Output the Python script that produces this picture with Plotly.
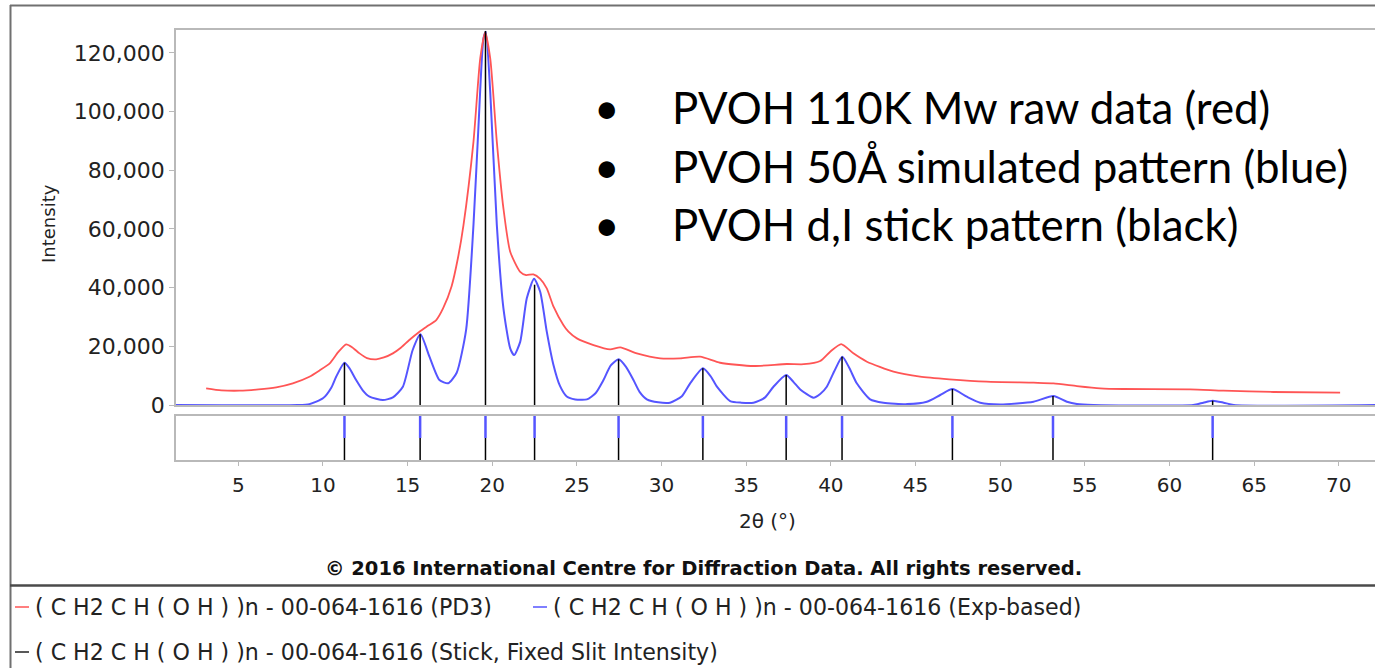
import plotly.graph_objects as go

# ---------------- data ----------------
red_x = [3.1, 4.0, 5.07, 6.2, 7.24, 8.22, 9.2, 9.8, 10.4, 10.9, 11.37, 11.7, 12.16, 12.6,
         13.14, 13.6, 14.13, 14.6, 15.1, 15.7, 16.2, 16.69, 17.1, 17.6, 17.97, 18.3, 18.89,
         19.29, 19.58, 19.88, 20.27, 20.66, 21.06, 21.65, 22.0, 22.43, 22.83, 23.22, 23.62,
         24.2, 24.5, 25.0, 25.98, 26.96, 27.56, 28.54, 29.92, 31.1, 32.28, 33.46, 35.43,
         37.4, 38.4, 39.37, 39.96, 40.61, 41.33, 42.13, 43.7, 45.27, 47.0, 49.2, 51.97,
         53.15, 54.53, 55.9, 57.28, 61.22, 63.19, 66.14, 70.08]
red_y = [5690, 5000, 4870, 5300, 6030, 7390, 9640, 11800, 14200, 18000, 20680, 19800, 17600, 16000,
         15570, 16200, 17600, 19500, 22150, 24970, 27000, 28960, 33000, 40500, 50000, 61300, 89700,
         118100, 127000, 118100, 89700, 67000, 52230, 45400, 44300, 44500, 43000, 39760, 33500,
         27260, 24970, 22700, 20440, 18970, 19650, 17600, 15900, 15900, 16460, 14400, 13290,
         13970, 13900, 15000, 18160, 20780, 17600, 14750, 11350, 9640, 8750, 7940, 7600,
         7390, 6470, 5690, 5450, 5350, 4870, 4430, 4190]

blue_x = [1.3, 8.5, 9.2, 10.0, 10.5, 10.78, 11.27, 11.57, 11.96, 12.35, 12.75, 13.54, 14.13,
          14.72, 15.3, 15.76, 16.29, 16.88, 17.4, 17.9, 18.46, 18.89, 19.19, 19.48, 19.62,
          19.88, 20.27, 20.66, 21.06, 21.29, 21.65, 22.04, 22.47, 22.83, 23.22, 23.6, 24.0,
          24.4, 24.9, 25.59, 26.1, 26.57, 27.0, 27.46, 27.9, 28.34, 28.7, 29.13, 29.8, 30.5,
          31.2, 31.69, 32.44, 32.9, 33.27, 34.05, 34.7, 35.43, 36.1, 36.61, 37.36, 37.8,
          38.19, 38.97, 39.37, 39.76, 40.2, 40.68, 41.1, 41.53, 42.32, 43.1, 44.5, 45.67,
          46.46, 47.18, 48.03, 48.82, 50.0, 51.97, 53.15, 53.94, 54.53, 55.5, 61.4, 62.0,
          62.55, 63.2, 63.8, 72.3]
blue_y = [0, 0, 300, 2280, 6000, 9640, 14400, 12500, 8500, 5000, 2830, 1700, 2600,
          6230, 18740, 24080, 16460, 8500, 7400, 11000, 25800, 61300, 95400, 124900, 127200,
          106700, 61300, 32950, 19300, 17000, 21500, 36350, 43000, 38600, 25000, 14000, 6500,
          2900, 1900, 1900, 4000, 8520, 13500, 15570, 13000, 8520, 4500, 1940, 900, 790,
          3000, 7390, 12500, 9800, 6230, 1360, 800, 790, 2500, 6230, 10220, 7800,
          5300, 2500, 3750, 6230, 11500, 16460, 12500, 7390, 1940, 790, 300, 1120,
          3410, 5450, 2830, 790, 200, 1120, 3070, 1120, 340, 0, 0, 800,
          1470, 800, 0, 0]

stick_pos = [11.27, 15.74, 19.60, 22.50, 27.46, 32.44, 37.36, 40.66, 47.18, 53.12, 62.55]
stick_int = [14400, 24100, 127500, 41000, 15570, 12500, 10220, 16460, 5450, 3070, 1470]

x_ticks = [5, 10, 15, 20, 25, 30, 35, 40, 45, 50, 55, 60, 65, 70]
y_ticks = [0, 20000, 40000, 60000, 80000, 100000, 120000]

legend_names = ["( C H2 C H ( O H ) )n - 00-064-1616 (PD3)",
                "( C H2 C H ( O H ) )n - 00-064-1616 (Exp-based)",
                "( C H2 C H ( O H ) )n - 00-064-1616 (Stick, Fixed Slit Intensity)"]
bullet_lines = ["PVOH 110K Mw raw data (red)",
                "PVOH 50Å simulated pattern (blue)",
                "PVOH d,I stick pattern (black)"]

# ---------------- layout helpers ----------------
W, H = 1375, 668
L, R, T, B = 176, 0, 30, 208
PW, PH = W - L - R, H - T - B


def px(x):
    return (x - L) / PW


def py(y):
    return (H - B - y) / PH


RED = "rgb(255,85,85)"
BLUE = "rgb(85,85,255)"
AXC = "#b9b9b9"
UI = "DejaVu Sans"

fig = go.Figure()

fig.add_trace(go.Scatter(x=blue_x, y=blue_y, mode="lines", name=legend_names[1],
                         line=dict(color=BLUE, width=2, shape="spline", smoothing=0.6),
                         xaxis="x", yaxis="y"))
fig.add_trace(go.Scatter(x=red_x, y=red_y, mode="lines", name=legend_names[0],
                         line=dict(color=RED, width=1.8, shape="spline", smoothing=0.6),
                         xaxis="x", yaxis="y"))

sx, sy = [], []
for p, h in zip(stick_pos, stick_int):
    sx += [p, p, None]
    sy += [0, h, None]
fig.add_trace(go.Scatter(x=sx, y=sy, mode="lines", name=legend_names[2],
                         line=dict(color="black", width=1.5), xaxis="x", yaxis="y"))

kx, ky, bx, by = [], [], [], []
for p in stick_pos:
    kx += [p, p, None]
    ky += [0, 1, None]
    bx += [p, p, None]
    by += [1, 2, None]
fig.add_trace(go.Scatter(x=kx, y=ky, mode="lines", line=dict(color="black", width=1.5),
                         xaxis="x2", yaxis="y2", showlegend=False))
fig.add_trace(go.Scatter(x=bx, y=by, mode="lines", line=dict(color=BLUE, width=2.5),
                         xaxis="x2", yaxis="y2", showlegend=False))

shapes = [
    dict(type="line", xref="paper", yref="paper", x0=px(10.5), x1=px(10.5), y0=py(5), y1=py(668),
         line=dict(color="#707070", width=2)),
    dict(type="line", xref="paper", yref="paper", x0=px(10), x1=1, y0=py(5.5), y1=py(5.5),
         line=dict(color="#707070", width=2)),
    dict(type="line", xref="paper", yref="paper", x0=px(10), x1=1, y0=py(585.5), y1=py(585.5),
         line=dict(color="#4a4a4a", width=2.5)),
]

annotations = [
    dict(text="Intensity", x=px(48), y=py(224), xref="paper", yref="paper", textangle=-90,
         xanchor="center", yanchor="middle",
         showarrow=False, font=dict(family=UI, size=18, color="#222")),
    dict(text="2θ (°)", x=px(767), y=py(521), xref="paper", yref="paper",
         xanchor="center", yanchor="middle",
         showarrow=False, font=dict(family=UI, size=20, color="#222")),
    dict(text="<b>© 2016 International Centre for Diffraction Data. All rights reserved.</b>",
         x=px(703), y=py(568), xref="paper", yref="paper", xanchor="center", yanchor="middle",
         showarrow=False, font=dict(family=UI, size=19.5, color="#111")),
]

# legend: short coloured dash + text
leg_pos = [(15, 607), (533, 607), (15, 652)]
leg_col = [RED, BLUE, "#222"]
for (lx, ly), col, name in zip(leg_pos, leg_col, legend_names):
    shapes.append(dict(type="line", xref="paper", yref="paper", x0=px(lx), x1=px(lx + 14),
                       y0=py(ly), y1=py(ly), line=dict(color=col, width=1.5)))
    annotations.append(dict(
        text=name, x=px(lx + 18), y=py(ly), xref="paper", yref="paper",
        xanchor="left", yanchor="middle",
        showarrow=False, font=dict(family=UI, size=22.1, color="#222")))

bullet_y = [107, 166, 224]
for yy, txt in zip(bullet_y, bullet_lines):
    annotations.append(dict(text="•", x=px(607), y=py(yy), xref="paper", yref="paper",
                            xanchor="center", yanchor="middle",
                            showarrow=False, font=dict(family="Lato", size=44, color="black")))
    annotations.append(dict(text=txt, x=px(670), y=py(yy), xref="paper", yref="paper",
                            xanchor="left", yanchor="middle", showarrow=False,
                            font=dict(family="Lato", size=43.8, color="black")))

fig.update_layout(
    width=W, height=H,
    margin=dict(l=L, r=R, t=T, b=B, pad=0),
    paper_bgcolor="white", plot_bgcolor="white",
    showlegend=False,
    shapes=shapes, annotations=annotations,
    xaxis=dict(domain=[0, 1], anchor="y", range=[1.32, 72.14], showticklabels=False,
               ticks="", showline=True, mirror=True, linecolor=AXC, linewidth=1.5,
               showgrid=False, zeroline=False),
    yaxis=dict(domain=[py(405), 1], anchor="x", range=[0, 127800], tickvals=y_ticks,
               tickformat=",", ticks="outside", ticklen=5, tickcolor=AXC, showline=True,
               linecolor=AXC, linewidth=1.5, showgrid=False, zeroline=False,
               tickfont=dict(family=UI, size=22, color="#222")),
    xaxis2=dict(domain=[0, 1], anchor="y2", matches="x", range=[1.32, 72.14], tickvals=x_ticks,
                ticks="outside", ticklen=4, tickcolor=AXC, showline=True, mirror=True,
                linecolor=AXC, linewidth=1.5, showgrid=False, zeroline=False,
                ticklabelstandoff=2, tickfont=dict(family=UI, size=20, color="#222")),
    yaxis2=dict(domain=[0, py(416)], anchor="x2", range=[0, 2], showticklabels=False,
                ticks="", showline=True, linecolor=AXC, linewidth=1.5, showgrid=False,
                zeroline=False),
)

fig.write_html("out.html")
